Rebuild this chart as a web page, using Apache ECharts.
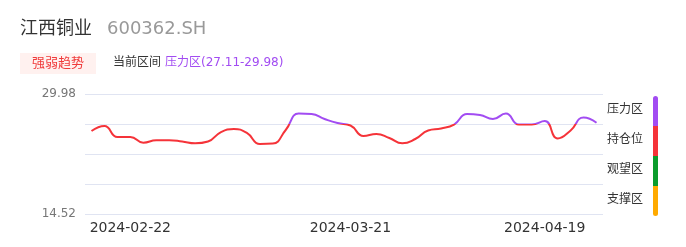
<!DOCTYPE html>
<html>
<head>
<meta charset="utf-8">
<script src="https://cdn.jsdelivr.net/npm/echarts@6/dist/echarts.min.js"></script>
<style>
html,body{margin:0;padding:0;background:#fff;}
#c{width:686px;height:247px;}
</style>
</head>
<body>
<div id="c"></div>
<script>
const dates = [
  '2024-02-19','2024-02-20','2024-02-21','2024-02-22','2024-02-23','2024-02-26','2024-02-28','2024-02-29',
  '2024-03-01','2024-03-04','2024-03-05','2024-03-07','2024-03-08','2024-03-11','2024-03-12','2024-03-14',
  '2024-03-15','2024-03-18','2024-03-19','2024-03-20','2024-03-21','2024-03-22','2024-03-25','2024-03-26',
  '2024-03-28','2024-03-29','2024-04-01','2024-04-02','2024-04-08','2024-04-09','2024-04-11','2024-04-12',
  '2024-04-15','2024-04-16','2024-04-18','2024-04-19','2024-04-22','2024-04-23','2024-04-24','2024-04-25'
];
const prices = [
  25.21, 25.86, 24.44, 24.44, 23.71, 24.01, 24.03, 23.86,
  23.62, 23.86, 25.08, 25.47, 24.96, 23.54, 23.60, 25.34,
  27.47, 27.40, 26.76, 26.24, 25.92, 24.57, 24.83, 24.31,
  23.63, 24.18, 25.28, 25.54, 26.05, 27.40, 27.27, 26.76,
  27.47, 26.05, 26.05, 26.50, 24.25, 25.28, 26.95, 26.28
];
const shownDates = ['2024-02-22', '2024-03-21', '2024-04-19'];
const yMin = 14.52, yMax = 29.98;
const yLabels = ['14.52', '29.98'];
const zones = ['压力区', '持仓位', '观望区', '支撑区'];
const zoneColors = ['#a24cf2', '#f53339', '#0b9c2c', '#ffaa00'];
const title = '江西铜业';
const code = '600362.SH';
const badge = '强弱趋势';
const curLabel = '当前区间';
const curZone = '压力区(27.11-29.98)';

const step = (yMax - yMin) / 4;
const bandData = prices.map(p => (p - yMin) / step);
const FONT = "'DejaVu Sans', 'Noto Sans CJK SC', sans-serif";

const chart = echarts.init(document.getElementById('c'));
const graphics = [
  {type:'text', x:20, y:29, style:{text:title, fill:'#333', font:'18px ' + FONT, verticalAlign:'middle'}},
  {type:'text', x:107, y:29, style:{text:code, fill:'#999', font:'18px ' + FONT, verticalAlign:'middle'}},
  {type:'rect', shape:{x:20, y:53, width:76, height:21}, style:{fill:'#fff1ef'}},
  {type:'text', x:58, y:63.5, style:{text:badge, fill:'#f03a3a', font:'13px ' + FONT, align:'center', verticalAlign:'middle'}},
  {type:'text', x:113, y:62.5, style:{text:curLabel, fill:'#333', font:'12px ' + FONT, verticalAlign:'middle'}},
  {type:'text', x:165, y:62.5, style:{text:curZone, fill:'#a24cf2', font:'12px ' + FONT, verticalAlign:'middle'}}
];
zones.forEach((z, i) => {
  graphics.push({type:'text', x:607, y:110 + i*30, style:{text:z, fill:'#333', font:'12px ' + FONT, verticalAlign:'middle'}});
  const r = i === 0 ? [2.5,2.5,0,0] : (i === zones.length-1 ? [0,0,2.5,2.5] : 0);
  graphics.push({type:'rect', shape:{x:653, y:96 + i*30, width:5, height:30, r:r}, style:{fill:zoneColors[i]}});
});

chart.setOption({
  animation: false,
  textStyle: {fontFamily: FONT},
  grid: {left:85, right:83, top:94, bottom:33},
  graphic: graphics,
  xAxis: {
    type:'category', data:dates, boundaryGap:true,
    axisLine:{show:false}, axisTick:{show:false},
    axisLabel:{
      interval:(idx, val) => shownDates.includes(val),
      color:'#333', fontSize:14, margin:7
    }
  },
  yAxis: {
    type:'value', min:0, max:4, interval:1,
    axisLine:{show:false}, axisTick:{show:false},
    splitLine:{lineStyle:{color:'#e0e4f2', width:1}},
    axisLabel:{
      color:'#777', fontSize:12, margin:9,
      formatter:v => v === 0 ? yLabels[0] : (v === 4 ? yLabels[1] : '')
    }
  },
  visualMap: {
    show:false, type:'piecewise', dimension:1, seriesIndex:0,
    pieces:[{gt:3, lte:4, color:zoneColors[0]}, {gte:0, lte:3, color:zoneColors[1]}],
    outOfRange:{color:zoneColors[1]}
  },
  series: [{
    type:'line', data:bandData, smooth:true, symbol:'none',
    lineStyle:{width:2}
  }]
});
</script>
</body>
</html>
